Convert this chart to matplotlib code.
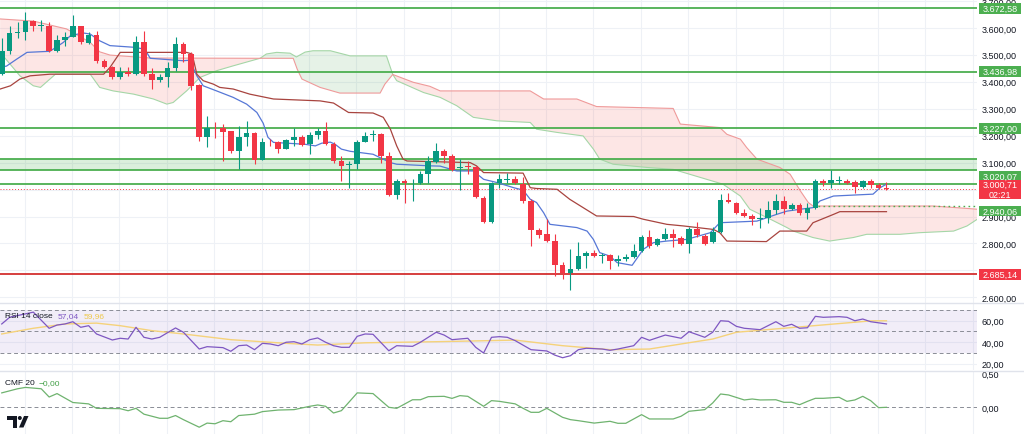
import numpy as np
import matplotlib
matplotlib.use('Agg')
import matplotlib.pyplot as plt
import matplotlib.transforms as mtransforms
from matplotlib.patches import Polygon, Rectangle, Circle
from matplotlib.lines import Line2D

plt.rcParams['font.family'] = ['Liberation Sans', 'DejaVu Sans']

# ---- candles ----
opens = [3428, 3515, 3580, 3583, 3627, 3608, 3608, 3515, 3556, 3567, 3606, 3544, 3573, 3478, 3453, 3416,
         3437, 3428, 3548, 3428, 3407, 3416, 3450, 3540, 3503, 3388, 3195, 3229, 3228, 3216, 3143, 3195,
         3208, 3109, 3177, 3175, 3152, 3184, 3195, 3168, 3202, 3218, 3168, 3106, 3090, 3094, 3177, 3202,
         3205, 3123, 2979, 3032, 3030, 3023, 3057, 3104, 3143, 3123, 3079, 3088, 3082, 2970, 2880, 3026,
         3037, 3038, 3020, 2958, 2849, 2834, 2809, 2719, 2689, 2706, 2753, 2766, 2755, 2756, 2735, 2741,
         2750, 2772, 2825, 2793, 2815, 2834, 2822, 2799, 2855, 2828, 2807, 2844, 2960, 2952, 2912, 2902,
         2890, 2893, 2923, 2958, 2927, 2943, 2912, 2930, 3032, 3026, 3032, 3032, 3028, 3011, 3030, 3016,
         3007]
highs = [3561, 3608, 3622, 3658, 3630, 3630, 3621, 3573, 3583, 3648, 3608, 3583, 3589, 3484, 3459, 3453,
         3454, 3569, 3587, 3450, 3428, 3472, 3565, 3548, 3509, 3391, 3272, 3251, 3243, 3218, 3236, 3255,
         3212, 3191, 3187, 3181, 3187, 3227, 3202, 3212, 3230, 3249, 3176, 3125, 3106, 3184, 3212, 3221,
         3208, 3140, 3038, 3038, 3041, 3068, 3123, 3172, 3150, 3131, 3113, 3106, 3088, 2976, 3028, 3057,
         3063, 3051, 3048, 2964, 2859, 2890, 2834, 2731, 2781, 2805, 2772, 2776, 2766, 2760, 2756, 2760,
         2797, 2830, 2850, 2822, 2859, 2855, 2828, 2862, 2880, 2834, 2862, 2983, 2989, 2954, 2927, 2908,
         2933, 2958, 2983, 2976, 2952, 2949, 2949, 3041, 3041, 3073, 3051, 3041, 3036, 3036, 3041, 3023,
         3028]
lows = [3425, 3503, 3562, 3556, 3589, 3589, 3509, 3509, 3534, 3565, 3540, 3540, 3469, 3450, 3410, 3410,
        3422, 3425, 3422, 3373, 3398, 3379, 3441, 3472, 3370, 3181, 3157, 3191, 3106, 3137, 3075, 3162,
        3094, 3109, 3162, 3137, 3150, 3162, 3162, 3131, 3187, 3165, 3100, 3032, 3004, 3075, 3175, 3181,
        3100, 2976, 2964, 2949, 2958, 3020, 3026, 3100, 3100, 3069, 2998, 3057, 2967, 2875, 2877, 3007,
        3026, 3020, 2952, 2790, 2822, 2805, 2679, 2667, 2627, 2701, 2710, 2748, 2729, 2706, 2716, 2735,
        2747, 2768, 2784, 2790, 2812, 2788, 2793, 2766, 2825, 2793, 2803, 2840, 2949, 2908, 2897, 2867,
        2859, 2877, 2908, 2908, 2924, 2904, 2892, 2927, 3013, 3007, 3020, 3020, 2986, 3007, 3007, 3001,
        2998]
closes = [3515, 3580, 3586, 3627, 3608, 3612, 3515, 3556, 3567, 3606, 3546, 3573, 3478, 3453, 3416, 3437,
          3428, 3548, 3428, 3407, 3416, 3450, 3540, 3503, 3385, 3194, 3228, 3227, 3214, 3143, 3195, 3208,
          3109, 3178, 3175, 3152, 3184, 3195, 3166, 3202, 3218, 3168, 3106, 3088, 3094, 3177, 3199, 3205,
          3123, 2979, 3032, 3026, 3032, 3057, 3106, 3143, 3125, 3073, 3084, 3082, 2972, 2880, 3026, 3038,
          3039, 3023, 2958, 2849, 2830, 2809, 2719, 2692, 2706, 2753, 2766, 2753, 2757, 2735, 2744, 2750,
          2772, 2825, 2790, 2815, 2836, 2822, 2799, 2855, 2831, 2799, 2844, 2961, 2954, 2914, 2902, 2890,
          2896, 2923, 2958, 2927, 2943, 2914, 2930, 3032, 3026, 3035, 3033, 3026, 3011, 3030, 3016, 3007,
          3000.71]

# ---- ichimoku lines (bar index, price) ----
tenkan_x = [-0.2, 0.6, 1.9, 3.2, 6.1, 7.8, 8.7, 10.3, 11.2, 12.4, 13.7, 16.7, 18.1, 18.8, 23.0, 23.8,
            24.7, 25.5, 27.2, 29.3, 31.0, 32.3, 33.1, 33.7, 34.4, 38.4, 39.7, 40.5, 41.6, 42.2, 43.0,
            44.1, 47.0, 49.2, 50.0, 54.2, 55.5, 57.6, 59.7, 61.0, 62.7, 64.8, 66.0, 66.9, 67.7, 68.6,
            69.4, 72.8, 74.1, 74.9, 75.7, 77.0, 77.9, 79.8, 81.2, 82.5, 84.2, 86.7, 89.7, 90.9, 95.6,
            98.1, 99.4, 101.1, 102.7, 103.6, 105.3, 110.3, 111.2, 112.0]
tenkan = [3454, 3458, 3484, 3509, 3513, 3546, 3571, 3581, 3577, 3552, 3534, 3528, 3521, 3487, 3478, 3480,
          3422, 3385, 3366, 3342, 3317, 3286, 3246, 3194, 3175, 3168, 3162, 3172, 3176, 3168, 3150,
          3142, 3131, 3100, 3094, 3088, 3087, 3069, 3069, 3038, 3026, 3007, 2998, 2964, 2952, 2914,
          2871, 2859, 2846, 2815, 2766, 2753, 2729, 2719, 2778, 2803, 2809, 2815, 2840, 2877, 2883,
          2908, 2920, 2927, 2933, 2958, 2976, 2983, 3007, 3020]
kijun_x = [-0.2, 1.1, 2.3, 3.6, 6.1, 12.9, 13.7, 15.0, 23.4, 24.1, 24.7, 25.5, 26.8, 27.6, 29.3, 31.4,
           34.4, 40.3, 42.0, 43.9, 47.0, 48.3, 49.2, 50.0, 50.8, 51.3, 59.3, 60.1, 61.0, 66.0, 66.9,
           67.7, 70.3, 71.9, 75.3, 80.0, 81.2, 84.2, 86.3, 90.1, 90.9, 91.8, 96.8, 98.5, 101.9, 102.7,
           105.3, 106.1, 112.0]
kijun = [3373, 3385, 3410, 3422, 3428, 3428, 3453, 3509, 3509, 3503, 3428, 3404, 3391, 3379, 3373, 3354,
         3336, 3329, 3321, 3286, 3284, 3268, 3224, 3162, 3113, 3106, 3100, 3088, 3063, 3061, 3007,
         3004, 3001, 2964, 2902, 2900, 2890, 2871, 2865, 2852, 2840, 2809, 2807, 2846, 2846, 2877,
         2908, 2918, 2918]
span_a_x = [-0.2, 2.3, 4.0, 4.9, 6.8, 11.2, 12.4, 14.1, 16.7, 19.2, 20.9, 21.7, 23.4, 25.1, 27.2, 29.3,
            32.7, 33.5, 34.8, 36.5, 37.3, 38.4, 39.4, 41.6, 44.1, 48.7, 49.5, 50.0, 53.4, 55.5, 57.6,
            59.7, 62.7, 66.9, 67.7, 70.3, 73.6, 74.9, 75.7, 77.4, 81.7, 85.0, 91.3, 93.5, 94.7, 97.3,
            99.4, 100.2, 102.7, 104.8, 107.8, 109.5, 113.7, 116.2, 120.5, 122.2, 123.5]
span_a = [3509, 3422, 3385, 3379, 3428, 3428, 3379, 3366, 3354, 3336, 3317, 3323, 3366, 3416, 3441, 3459,
          3487, 3503, 3509, 3506, 3492, 3510, 3515, 3515, 3496, 3496, 3427, 3404, 3360, 3342, 3311,
          3268, 3255, 3249, 3224, 3212, 3199, 3150, 3113, 3094, 3082, 3075, 3020, 2976, 2927, 2890,
          2859, 2846, 2822, 2809, 2822, 2834, 2834, 2840, 2846, 2865, 2890]
span_b_x = [-0.2, 4.0, 8.2, 11.2, 12.4, 13.7, 18.8, 32.7, 36.9, 37.4, 38.0, 40.3, 42.8, 47.9, 48.5, 49.5,
            52.1, 54.2, 55.5, 66.9, 68.6, 72.8, 75.3, 85.0, 85.9, 90.9, 91.8, 93.5, 94.3, 95.6, 98.5,
            99.8, 101.1, 102.1, 102.7, 117.9, 122.2, 123.5]
span_b = [3633, 3625, 3596, 3546, 3511, 3499, 3488, 3487, 3487, 3447, 3410, 3379, 3358, 3358, 3391, 3427,
          3398, 3383, 3366, 3366, 3336, 3336, 3308, 3301, 3243, 3230, 3205, 3187, 3156, 3113, 3082,
          3057, 2995, 2952, 2939, 2939, 2930, 2927]
cloud_cross = [32.7, 49.5]

# ---- horizontal levels ----
green_levels = [3672.58, 3436.98, 3227.00, 3020.07]
band_low, band_high = 3072, 3112
dotted_level = 2940.06
red_level = 2685.14
last_price = 3000.71
countdown = '02:21'

# ---- RSI 14 and its moving average ----
rsi_x = [0, 1, 4, 6, 7, 8, 9, 10, 11, 12, 14, 15, 16, 17, 18, 19, 20, 22, 23, 25, 26, 28, 29, 30, 31, 32,
         33, 34, 35, 36, 37, 38, 39, 40, 41, 42, 43, 44, 45, 46, 47, 49, 50, 52, 53, 55, 56, 57, 59, 60,
         61, 62, 63, 64, 65, 67, 69, 70, 71, 72, 73, 74, 76, 77, 78, 80, 81, 82, 84, 86, 87, 89, 90, 91,
         92, 93, 94, 96, 98, 99, 100, 101, 102, 103, 104, 106, 107, 108, 109, 110, 112]
rsi = [57.0, 63.2, 68.0, 53.0, 56.0, 57.0, 59.1, 53.9, 55.4, 47.7, 42.1, 43.7, 43.0, 53.9, 44.6, 43.0,
       44.6, 53.3, 49.3, 33.7, 35.9, 35.0, 31.6, 36.8, 37.4, 33.1, 39.0, 38.4, 36.8, 40.0, 40.5, 38.4,
       42.4, 44.0, 40.0, 36.8, 35.3, 35.3, 45.5, 47.7, 47.4, 32.1, 36.8, 36.2, 40.0, 49.3, 46.7, 42.4,
       43.7, 35.3, 30.0, 44.6, 45.2, 44.6, 41.5, 33.1, 31.9, 28.1, 25.6, 27.5, 33.1, 34.4, 33.7, 32.5,
       33.7, 36.8, 44.6, 41.8, 46.7, 43.7, 49.8, 44.6, 49.3, 60.0, 59.5, 54.8, 53.0, 51.7, 59.1, 54.8,
       56.7, 53.0, 53.5, 64.1, 63.2, 63.8, 63.2, 60.0, 61.6, 59.1, 57.04]
rsi_ma_x = [0, 4, 8, 12, 15, 19, 23, 29, 36, 40, 46, 55, 65, 71, 77, 82, 86, 90, 93, 98, 103, 107, 110, 112]
rsi_ma = [47.7, 53.0, 57.0, 57.8, 55.4, 50.8, 47.7, 42.4, 39.0, 37.4, 39.5, 40.5, 42.0, 36.8, 33.1, 33.7,
          38.4, 43.0, 49.3, 52.4, 55.5, 58.0, 59.9, 59.96]

# ---- CMF 20 ----
cmf_x = [0, 2, 3, 5, 6, 7, 9, 11, 12, 15, 16, 17, 18, 20, 21, 22, 23, 25, 26, 27, 28, 29, 30, 32, 33, 35,
         37, 39, 40, 41, 42, 43, 45, 47, 49, 50, 52, 53, 54, 56, 57, 58, 59, 61, 62, 63, 65, 66, 67, 68,
         69, 71, 72, 73, 75, 77, 78, 79, 81, 82, 85, 86, 87, 89, 90, 91, 92, 94, 95, 96, 98, 99, 100,
         101, 102, 103, 104, 106, 107, 108, 109, 110, 111, 112]
cmf = [0.21, 0.27, 0.29, 0.27, 0.15, 0.20, 0.07, 0.05, -0.015, -0.02, -0.05, -0.015, -0.10, -0.16, -0.16,
       -0.12, -0.18, -0.29, -0.23, -0.24, -0.195, -0.21, -0.12, -0.10, -0.063, -0.04, -0.034, 0.015, 0.034,
       0.015, -0.083, -0.049, 0.21, 0.20, 0.0, -0.015, 0.11, 0.11, 0.155, 0.16, 0.13, 0.17, 0.16, 0.015,
       0.097, 0.087, 0.05, -0.015, -0.073, -0.073, -0.015, -0.146, -0.18, -0.195, -0.23, -0.204, -0.233,
       -0.233, -0.107, -0.17, -0.17, -0.13, -0.058, -0.034, 0.063, 0.194, 0.18, 0.107, 0.121, 0.107, 0.11,
       0.073, 0.073, 0.038, 0.087, 0.131, 0.131, 0.146, 0.087, 0.107, 0.16, 0.097, -0.005, 0.0]

# scale labels (3.000,00 sits under the live price tag, so it is not shown)
price_ticks = [2600, 2700, 2800, 2900, 3100, 3200, 3300, 3400, 3500, 3600, 3700]
rsi_ticks = [20, 40, 60]
cmf_ticks = [0.0, 0.5]

GREEN = '#089981'
RED = '#F23645'
LEVEL_GREEN = '#4CAF50'
GRID = '#eef1f6'
TXT = '#131722'

def eu(v):
    s = f'{v:,.2f}'
    return s.replace(',', ' ').replace('.', ',').replace(' ', '.')

W, H = 1024, 435
fig = plt.figure(figsize=(W / 100, H / 100), dpi=100)
fig.patch.set_facecolor('white')

def add_pane(y0, y1):
    a = fig.add_axes([0, 1 - y1 / H, 977 / W, (y1 - y0) / H])
    a.set_xlim(-0.22, 123.46)
    for s in a.spines.values():
        s.set_visible(False)
    a.set_xticks([])
    a.yaxis.tick_right()
    a.tick_params(axis='y', length=0, pad=3.5, labelsize=6.5, labelcolor=TXT)
    for g in np.arange(2.9, 124, 6):
        a.axvline(g, color=GRID, lw=0.8, zorder=0)
    return a

ax = add_pane(0, 303.5)
ax_rsi = add_pane(304, 371)
ax_cmf = add_pane(372, 435)

# ---- main pane ----
ax.set_ylim(2581, 3707)
ax.set_yticks(price_ticks)
ax.set_yticklabels([eu(v) for v in price_ticks])
for p in range(2600, 3701, 100):
    ax.axhline(p, color=GRID, lw=0.8, zorder=0)

# cloud
def cloud_patch(lo, hi, color):
    pa = [(x, y) for x, y in zip(span_a_x, span_a) if lo <= x <= hi]
    pb = [(x, y) for x, y in zip(span_b_x, span_b) if lo <= x <= hi]
    poly = Polygon(pa + pb[::-1], closed=True, fc=color, ec='none', alpha=0.13, zorder=1)
    ax.add_patch(poly)

cloud_patch(-1, cloud_cross[0], '#F44336')
cloud_patch(cloud_cross[0], cloud_cross[1], '#43A047')
cloud_patch(cloud_cross[1], 125, '#F44336')
ax.plot(span_a_x, span_a, color='#A5D6A7', lw=0.8, zorder=1.5)
ax.plot(span_b_x, span_b, color='#EF9A9A', lw=0.8, zorder=1.5)

# levels
ax.axhspan(band_low, band_high, color=LEVEL_GREEN, alpha=0.2, lw=0, zorder=1)
for lv in green_levels + [band_low, band_high]:
    ax.axhline(lv, color=LEVEL_GREEN, lw=1.3, zorder=2)
ax.axhline(red_level, color='#D32F2F', lw=1.3, zorder=2)
ax.hlines(dotted_level, 102.7, 123.46, color=LEVEL_GREEN, lw=1.0, linestyles=(0, (1.2, 2.4)), zorder=2)
ax.axhline(last_price, color=RED, lw=0.7, ls=(0, (1, 2)), zorder=2)

# ichimoku base lines
ax.plot(tenkan_x, tenkan, color='#5677d6', lw=0.9, zorder=2.2)
ax.plot(kijun_x, kijun, color='#a8443f', lw=0.9, zorder=2.2)

# candles
idx = np.arange(len(opens))
o = np.array(opens, float)
c = np.array(closes, float)
cols = [GREEN if cc >= oo else RED for oo, cc in zip(o, c)]
ax.vlines(idx, lows, highs, colors=cols, lw=0.8, zorder=3)
bottoms = np.minimum(o, c)
heights = np.maximum(np.abs(c - o), 3)
ax.bar(idx, heights, bottom=bottoms, width=0.72, color=cols, lw=0, zorder=3.1)

# price tags on the scale (shift in pixels keeps neighbouring tags apart, as on the scale)
tag_x0, tag_x1 = 979 / 977, 1021 / 977
ppx = (3707 - 2581) / 303.5

def price_tag(price, color, text, half_px=5.3, shift_px=0.0, fs=6.5):
    tr = ax.get_yaxis_transform()
    yc = price - shift_px * ppx
    ax.add_patch(Rectangle((tag_x0, yc - half_px * ppx), tag_x1 - tag_x0, 2 * half_px * ppx,
                           transform=tr, fc=color, ec='none', clip_on=False, zorder=5))
    ax.text((tag_x0 + tag_x1) / 2, yc, text, transform=tr, ha='center', va='center',
            color='white', fontsize=fs, clip_on=False, zorder=6, linespacing=1.05)

price_tag(3672.58, LEVEL_GREEN, eu(3672.58))
price_tag(3436.98, LEVEL_GREEN, eu(3436.98))
price_tag(3227.00, LEVEL_GREEN, eu(3227.00))
price_tag(3020.07, LEVEL_GREEN, eu(3020.07), shift_px=-7.6)
price_tag(dotted_level, LEVEL_GREEN, eu(dotted_level), shift_px=5.2)
price_tag(red_level, RED, eu(red_level))
price_tag(last_price, RED, eu(last_price) + '\n' + countdown, half_px=9.2)

# ---- RSI pane ----
ax_rsi.set_ylim(14.2, 76.5)
ax_rsi.set_yticks(rsi_ticks)
ax_rsi.set_yticklabels([eu(v) for v in rsi_ticks])
for v in rsi_ticks:
    ax_rsi.axhline(v, color=GRID, lw=0.8, zorder=0)
ax_rsi.axhspan(30, 70, color='#7E57C2', alpha=0.1, lw=0, zorder=0.5)
for v in (70, 50, 30):
    ax_rsi.axhline(v, color='#8a8d96', lw=0.7, ls=(0, (4, 3)), zorder=1)
ax_rsi.plot(rsi_ma_x, rsi_ma, color='#F5D27A', lw=1.0, zorder=2)
ax_rsi.plot(rsi_x, rsi, color='#7E57C2', lw=0.9, zorder=3)
ax_rsi.text(5 / 977, 0.81, 'RSI 14 close', transform=ax_rsi.transAxes, fontsize=6, color=TXT,
            va='center', zorder=4)
ax_rsi.text(57.7 / 977, 0.81, '57,04', transform=ax_rsi.transAxes, fontsize=6, color='#7E57C2',
            va='center', zorder=4)
ax_rsi.text(83.3 / 977, 0.81, '59,96', transform=ax_rsi.transAxes, fontsize=6, color='#EFC94C',
            va='center', zorder=4)

# ---- CMF pane ----
ax_cmf.set_ylim(-0.389, 0.529)
ax_cmf.set_yticks(cmf_ticks)
ax_cmf.set_yticklabels([eu(v) for v in cmf_ticks])
ax_cmf.axhline(0, color='#8a8d96', lw=0.7, ls=(0, (4, 3)), zorder=1)
ax_cmf.plot(cmf_x, cmf, color='#6fb36f', lw=0.9, zorder=3)
ax_cmf.text(5 / 977, 0.82, 'CMF 20', transform=ax_cmf.transAxes, fontsize=6, color=TXT, va='center')
ax_cmf.text(39 / 977, 0.82, '\u22120,00', transform=ax_cmf.transAxes, fontsize=6, color='#43A047',
            va='center')

# pane separators
pix = mtransforms.Affine2D().scale(1 / W, -1 / H).translate(0, 1) + fig.transFigure
for yy in (303.8, 371.5):
    fig.add_artist(Line2D([0, W], [yy, yy], transform=pix, color='#e0e3eb', lw=1.0))

# TradingView mark
fig.add_artist(Polygon([(7, 417), (17, 417), (17, 428.5), (12.5, 428.5), (12.5, 421), (7, 421)],
                       closed=True, transform=pix, fc=TXT, ec='none'))
fig.add_artist(Circle((19.8, 419), 2.0, transform=pix, fc=TXT, ec='none'))
fig.add_artist(Polygon([(24, 417), (28.5, 417), (23.5, 428.5), (19, 428.5)],
                       closed=True, transform=pix, fc=TXT, ec='none'))

fig.savefig('out.png', dpi=100)
